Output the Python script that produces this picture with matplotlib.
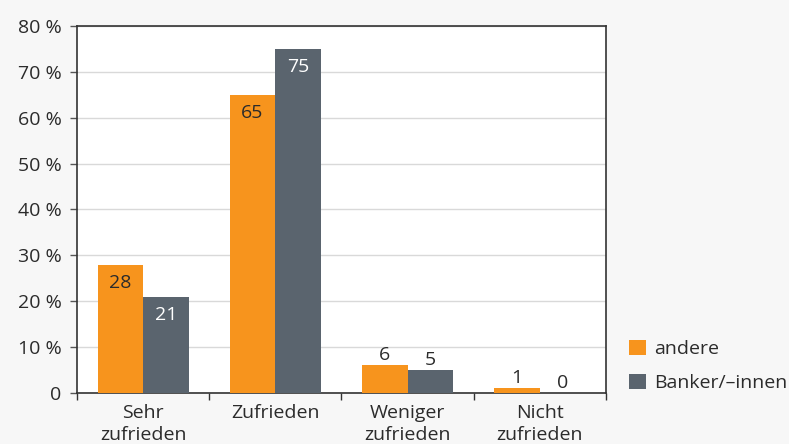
import matplotlib.pyplot as plt
import numpy as np

# Data
categories = ['Sehr\nzufrieden', 'Zufrieden', 'Weniger\nzufrieden', 'Nicht\nzufrieden']
andere = [28, 65, 6, 1]
banker = [21, 75, 5, 0]
series_names = ['andere', 'Banker/\u2013innen']
y_ticks = [0, 10, 20, 30, 40, 50, 60, 70, 80]

orange = '#f7941d'
gray = '#5a646e'
text_col = '#2b2b2b'
fs = 14
plt.rcParams['font.family'] = ['Open Sans', 'DejaVu Sans']

fig = plt.figure(figsize=(7.89, 4.44), dpi=100, facecolor='#f7f7f7')
ax = fig.add_axes([0.0976, 0.115, 0.6704, 0.8264])
ax.set_facecolor('white')

x = np.arange(len(categories))
w = 0.345
b1 = ax.bar(x - w / 2, andere, w, color=orange, label=series_names[0], zorder=3)
b2 = ax.bar(x + w / 2, banker, w, color=gray, label=series_names[1], zorder=3)

# value labels: inside for tall bars, above for small ones
for bars, vals, inner in [(b1, andere, text_col), (b2, banker, 'white')]:
    for rect, v in zip(bars, vals):
        cx = rect.get_x() + rect.get_width() / 2
        if v >= 15:
            ax.annotate(str(v), (cx, v), xytext=(0, -6.5), textcoords='offset points',
                        ha='center', va='top', fontsize=fs, color=inner, zorder=4)
        else:
            ax.annotate(str(v), (cx, v), xytext=(0, 1), textcoords='offset points',
                        ha='center', va='bottom', fontsize=fs, color=text_col, zorder=4)

ax.set_xlim(-0.5, len(categories) - 0.5)
ax.set_ylim(0, 80)
ax.set_yticks(y_ticks)
ax.set_yticklabels(['0'] + ['%d %%' % t for t in y_ticks[1:]], fontsize=fs, color=text_col)
ax.yaxis.grid(True, color='#d9d9d9', linewidth=1, zorder=0)
ax.tick_params(axis='y', length=5, width=1, color='#555555', pad=6)

ax.set_xticks(x)
ax.set_xticklabels(categories, fontsize=fs, color=text_col, linespacing=1.3)
ax.tick_params(axis='x', which='major', length=0, pad=8)
ax.set_xticks(np.arange(-0.5, len(categories)), minor=True)
ax.tick_params(axis='x', which='minor', length=5, width=1, color='#333333')

for s in ax.spines.values():
    s.set_color('#333333')
    s.set_linewidth(1.2)

fig.legend(handles=[b1, b2], loc='upper left', bbox_to_anchor=(0.775, 0.274),
           frameon=False, fontsize=fs, handlelength=0.85, handleheight=0.85,
           handletextpad=0.45, labelspacing=0.8, labelcolor=text_col)

fig.savefig('out.png', dpi=100, facecolor=fig.get_facecolor())
